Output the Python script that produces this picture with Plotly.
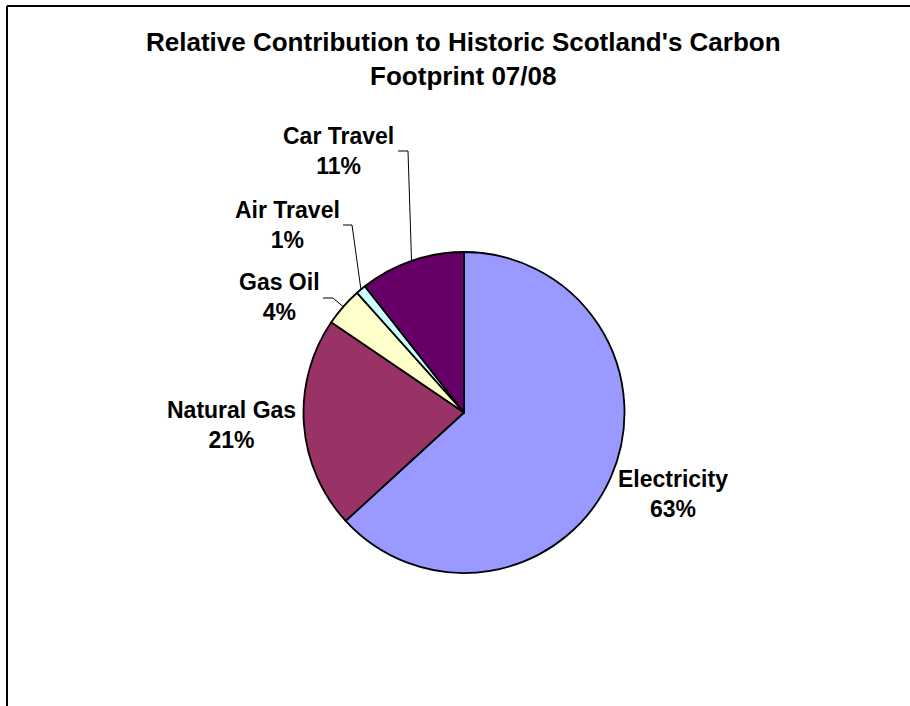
import math
import plotly.graph_objects as go

# ---- data ----
categories = ["Electricity", "Natural Gas", "Gas Oil", "Air Travel", "Car Travel"]
values = [63.2, 21.3, 3.9, 1.0, 10.6]
colors = ["#9999FF", "#993366", "#FFFFCC", "#CCFFFF", "#660066"]
title_lines = ["Relative Contribution to Historic Scotland's Carbon", "Footprint 07/08"]

# ---- layout (pixels) ----
W, H = 910, 706
CX, CY, R = 464, 412.5, 160.5
FONT = "Arial, Liberation Sans, sans-serif"

label_pos = {
    "Electricity": (673, 494),
    "Natural Gas": (231, 425),
    "Gas Oil": (279, 297),
    "Air Travel": (287, 225),
    "Car Travel": (338, 151),
}
leader_start = {
    "Gas Oil": [(323, 298), (333, 298)],
    "Air Travel": [(343, 225), (352, 225)],
    "Car Travel": [(398, 151), (408, 151)],
}


def px(x):
    return x / W


def py(y):
    return 1 - y / H


fig = go.Figure()
fig.add_trace(go.Pie(
    labels=categories,
    values=values,
    marker=dict(colors=colors, line=dict(color="black", width=1.8)),
    sort=False,
    direction="clockwise",
    rotation=0,
    textinfo="none",
    hoverinfo="label+percent",
    showlegend=False,
    domain=dict(x=[px(CX - R), px(CX + R)], y=[py(CY + R), py(CY - R)]),
))

total = sum(values)
annotations = []
shapes = []
cum = 0.0
for cat, v in zip(categories, values):
    mid = (cum + v / 2) / total * 2 * math.pi
    cum += v
    pct = round(v / total * 100)
    lx, ly = label_pos[cat]
    annotations.append(dict(
        x=px(lx), y=py(ly), xref="paper", yref="paper",
        text=f"<b>{cat}</b><br><b>{pct}%</b>",
        showarrow=False, xanchor="center", yanchor="middle",
        font=dict(family=FONT, size=23, color="black"),
    ))
    if cat in leader_start:
        ex = CX + R * math.sin(mid)
        ey = CY - R * math.cos(mid)
        pts = leader_start[cat] + [(ex, ey)]
        path = "M " + " L ".join(f"{px(a)},{py(b)}" for a, b in pts)
        shapes.append(dict(type="path", path=path, xref="paper", yref="paper",
                           line=dict(color="black", width=1)))

annotations.append(dict(
    x=px(464), y=py(59), xref="paper", yref="paper",
    text="<b>" + "<br>".join(title_lines) + "</b>",
    showarrow=False, xanchor="center", yanchor="middle",
    font=dict(family=FONT, size=26, color="black"),
))

# frame (top and left edges visible)
shapes.append(dict(type="line", xref="paper", yref="paper",
                   x0=px(7), y0=py(6), x1=1.0, y1=py(6), line=dict(color="black", width=2)))
shapes.append(dict(type="line", xref="paper", yref="paper",
                   x0=px(7), y0=py(6), x1=px(7), y1=0.0, line=dict(color="black", width=2)))

fig.update_layout(
    width=W, height=H,
    margin=dict(l=0, r=0, t=0, b=0),
    paper_bgcolor="white", plot_bgcolor="white",
    annotations=annotations,
    shapes=shapes,
)

fig.write_html("out.html", config={"displayModeBar": False})

# remove the default page margin so the figure sits at the window's origin
with open("out.html", "r", encoding="utf-8") as f:
    html = f.read()
html = html.replace("<body>", '<body style="margin:0;padding:0;overflow:hidden">', 1)
with open("out.html", "w", encoding="utf-8") as f:
    f.write(html)
